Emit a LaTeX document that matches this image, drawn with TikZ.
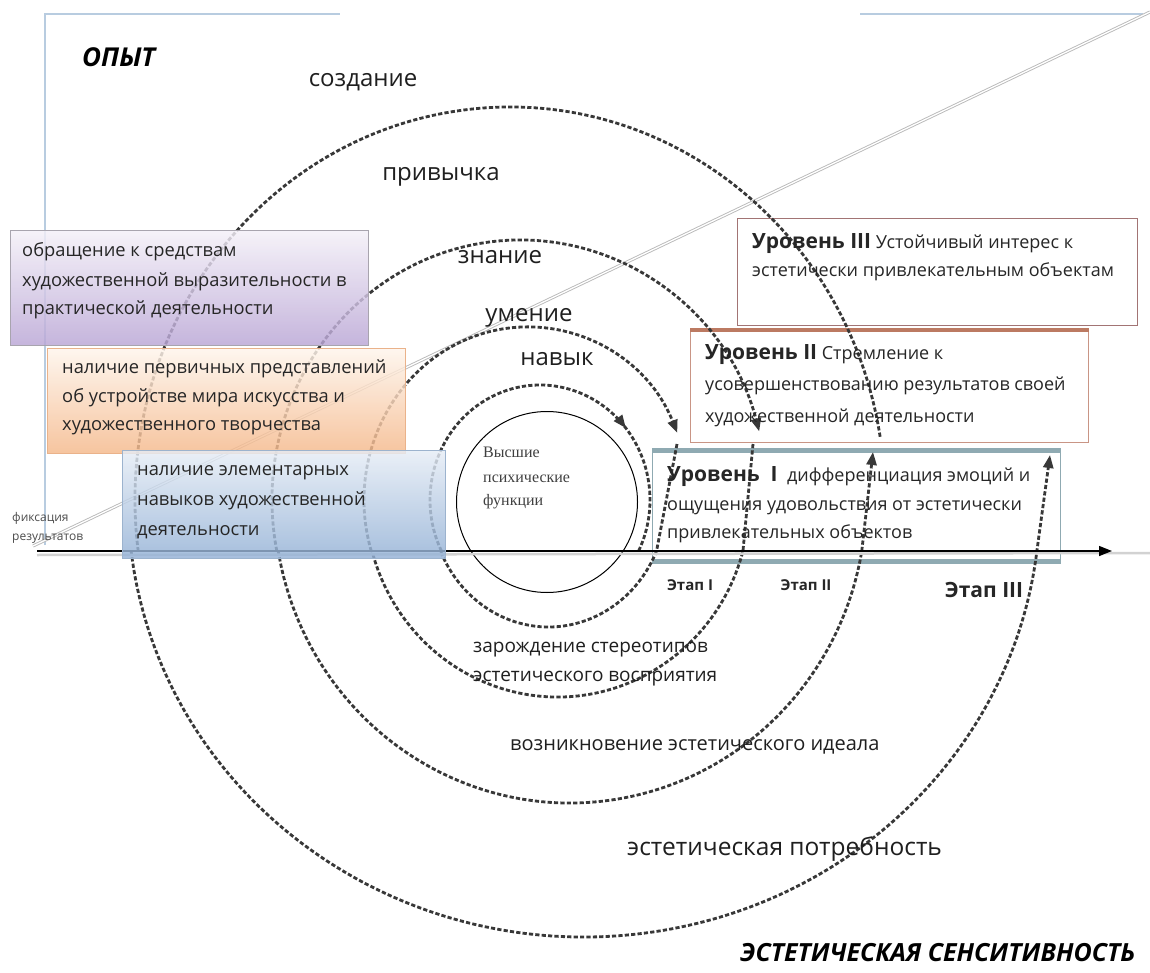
\documentclass[tikz,border=0pt]{standalone}
\usepackage{fontspec}
\setmainfont{Open Sans}
\newfontfamily\serifcyr{Liberation Serif}
\usetikzlibrary{arrows.meta,decorations.markings}
\definecolor{frameC}{HTML}{B8CCE0}
\definecolor{purTop}{HTML}{F4F0F8}
\definecolor{purBot}{HTML}{B9A5D5}
\definecolor{purBd}{HTML}{A8A4AE}
\definecolor{orTop}{HTML}{FEF5EC}
\definecolor{orBot}{HTML}{F5B88A}
\definecolor{orBd}{HTML}{EAB28A}
\definecolor{blTop}{HTML}{E6EDF6}
\definecolor{blBot}{HTML}{93B1D6}
\definecolor{blBd}{HTML}{9CB3CE}
\definecolor{lvThree}{HTML}{A27474}
\definecolor{lvTwo}{HTML}{BC7A62}
\definecolor{lvTwoSide}{HTML}{C99585}
\definecolor{lvOne}{HTML}{8FAAB2}
\definecolor{spiralC}{HTML}{383838}
\tikzset{
  frameline/.style={draw=frameC, line width=1.2pt},
  diagline/.style={draw=gray!55, line width=0.9pt, double=white, double distance=1.3pt},
  spiral/.style={draw=spiralC, line width=2.8pt, dash pattern=on 4.2pt off 2.2pt},
  spiraltip/.style={-{Triangle[length=13pt,width=10pt]}},
  leftbox/.style={rectangle, inner sep=0pt, anchor=north west, fill opacity=0.82, line width=1pt},
  lvlbox/.style={rectangle, inner sep=0pt, anchor=north west, fill=white},
  boxtxt/.style={font=\fontsize{18.3}{22}\selectfont, anchor=base west, inner sep=0pt, text=black!85},
  lvtxt/.style={font=\fontsize{18}{22}\selectfont, anchor=base west, inner sep=0pt, text=black!85},
  lvbold/.style={font=\fontsize{21}{25}\selectfont\bfseries},
  biglbl/.style={font=\fontsize{24}{28}\selectfont, anchor=base, inner sep=0pt, text=black!88},
  midlbl/.style={font=\fontsize{20}{24}\selectfont, anchor=base west, inner sep=0pt, text=black!88},
  etap/.style={font=\fontsize{15}{18}\selectfont\bfseries, anchor=base, inner sep=0pt, text=black!85},
  hpftxt/.style={font=\serifcyr\fontsize{16}{19}\selectfont, anchor=base west, inner sep=0pt, text=black!75},
  fixtxt/.style={font=\fontsize{12}{14}\selectfont, anchor=base west, inner sep=0pt, text=black!70},
}
\begin{document}
\begin{tikzpicture}[x=1pt,y=-1pt]
\useasboundingbox (0,0) rectangle (1150,973);
\fill[white] (0,0) rectangle (1150,973);

% frame lines
\coordinate (fA) at (45,545);
\coordinate (fB) at (45,14);
\coordinate (fC) at (340,14);
\coordinate (fD) at (860,14);
\coordinate (fE) at (1143,14);
\draw[frameline] (fA) -- (fB) -- (fC);
\draw[frameline] (fD) -- (fE);

% diagonal double line
\coordinate (dA) at (33,546);
\coordinate (dB) at (1150,12);
\draw[diagline] (dA) -- (dB);

% level boxes
\node[lvlbox, draw=lvThree, line width=1.4pt, minimum width=400pt, minimum height=107pt] (lv3) at (737,218) {};
\node[lvlbox, draw=lvTwoSide, line width=1pt, minimum width=398pt, minimum height=112pt] (lv2) at (690,330) {};
\draw[draw=lvTwo, line width=4pt] (lv2.north west) -- (lv2.north east);
\node[lvlbox, draw=lvOne, line width=1.2pt, minimum width=408pt, minimum height=114pt] (lv1) at (652,448) {};
\draw[draw=lvOne, line width=5pt] ([yshift=-2pt]lv1.north west) -- ([yshift=-2pt]lv1.north east);
\draw[draw=lvOne, line width=5pt] ([yshift=2pt]lv1.south west) -- ([yshift=2pt]lv1.south east);

% central circle
\node[circle, draw=black, line width=1pt, minimum size=181pt, inner sep=0pt] (hpf) at (547,502) {};

% spiral: upper arcs
\draw[spiral, postaction={decorate}, decoration={markings, mark=at position 0.717 with {\arrow{Triangle[length=13pt,width=10pt]}}}]
  ([shift={(153.7:110 and 115)}]540,500) arc[start angle=153.7, end angle=386.3, x radius=110, y radius=115];
\draw[spiral, spiraltip] ([shift={(162.8:163 and 173)}]527,500) arc[start angle=162.8, end angle=337.2, x radius=163, y radius=173];
\draw[spiral, spiraltip] ([shift={(168.7:248 and 260)}]520,500) arc[start angle=168.7, end angle=344.7, x radius=248, y radius=260];
\draw[spiral] ([shift={(172.5:375 and 393)}]510,500) arc[start angle=172.5, end angle=351.0, x radius=375, y radius=393];

% spiral: lower arcs
\coordinate (r1) at (677,444);
\coordinate (r2) at (753,444);
\coordinate (r3) at (873,452);
\coordinate (r4) at (1050,455);
\draw[spiral] (r1) -- ([shift={(23.7:118 and 127)}]548.5,500) arc[start angle=23.7, end angle=156.3, x radius=118, y radius=127];
\draw[spiral] (r2) -- ([shift={(15:192 and 197)}]557.5,500) arc[start angle=15, end angle=165, x radius=192, y radius=197];
\draw[spiral, spiraltip] ([shift={(170.3:296 and 303)}]570,500) arc[start angle=170.3, end angle=9.7, x radius=296, y radius=303] -- (r3);
\draw[spiral, spiraltip] ([shift={(173.3:456 and 437)}]584,500) arc[start angle=173.3, end angle=6.7, x radius=456, y radius=437] -- (r4);

% time axis
\coordinate (ax0) at (37,551);
\coordinate (ax1) at (1112,551);
\coordinate (ax2) at (1150,553);
\draw[draw=gray!35, line width=2.5pt] (37,555) -- (ax2);
\draw[draw=black, line width=1.4pt, -{Triangle[length=13pt,width=10pt]}] (ax0) -- (ax1);

% left boxes
\node[leftbox, draw=purBd, top color=purTop, bottom color=purBot, minimum width=358pt, minimum height=115pt] (bp) at (10,230) {};
\node[leftbox, draw=orBd, top color=orTop, bottom color=orBot, minimum width=358pt, minimum height=105pt] (bo) at (47,348) {};
\node[leftbox, draw=blBd, top color=blTop, bottom color=blBot, minimum width=323pt, minimum height=108pt] (bb) at (122,450) {};

% texts in left boxes
\node[boxtxt] (p1) at (22,257) {обращение к средствам};
\node[boxtxt] (p2) at (22,287) {художественной выразительности в};
\node[boxtxt] (p3) at (22,315) {практической деятельности};
\node[boxtxt] (o1) at (62,373) {наличие первичных представлений};
\node[boxtxt] (o2) at (62,402) {об устройстве мира искусства и};
\node[boxtxt] (o3) at (62,430) {художественного творчества};
\node[boxtxt] (b1) at (137,475) {наличие элементарных};
\node[boxtxt] (b2) at (137,505) {навыков художественной};
\node[boxtxt] (b3) at (137,535) {деятельности};

% level texts
\node[lvtxt] (l31) at (752,249) {{\fontsize{21}{25}\selectfont\bfseries Уровень III} Устойчивый интерес к};
\node[lvtxt] (l32) at (752,277) {эстетически привлекательным объектам};
\node[lvtxt] (l21) at (705,359) {{\fontsize{21}{25}\selectfont\bfseries Уровень II} Стремление к};
\node[lvtxt] (l22) at (705,390) {усовершенствованию результатов своей};
\node[lvtxt] (l23) at (705,422) {художественной деятельности};
\node[lvtxt] (l11) at (667,481) {{\fontsize{21}{25}\selectfont\bfseries Уровень~~I}\ \ дифференциация эмоций и};
\node[lvtxt] (l12) at (667,510) {ощущения удовольствия от эстетически};
\node[lvtxt] (l13) at (667,538) {привлекательных объектов};

% circle text
\node[hpftxt] (h1) at (483,457) {Высшие};
\node[hpftxt] (h2) at (483,482) {психические};
\node[hpftxt] (h3) at (483,505) {функции};

% big labels
\node[font=\fontsize{26}{30}\selectfont\bfseries\itshape, anchor=base west, inner sep=0pt] (opyt) at (82,67) {ОПЫТ};
\node[biglbl] (s1) at (363,87) {создание};
\node[biglbl] (s2) at (441,181) {привычка};
\node[biglbl] (s3) at (500,264) {знание};
\node[biglbl] (s4) at (529,322) {умение};
\node[biglbl] (s5) at (557,365) {навык};

% stage labels
\node[etap] (e1) at (690,590) {Этап I};
\node[etap] (e2) at (806,590) {Этап II};
\node[etap, font=\fontsize{21}{24}\selectfont\bfseries] (e3) at (984,597) {Этап III};

% fixation label
\node[fixtxt] (fx1) at (12,521) {фиксация};
\node[fixtxt] (fx2) at (12,540) {результатов};

% lower labels
\node[midlbl, font=\fontsize{19}{23}\selectfont] (z1) at (473,652) {зарождение стереотипов};
\node[midlbl, font=\fontsize{19}{23}\selectfont] (z2) at (473,681) {эстетического восприятия};
\node[midlbl] (v1) at (510,750) {возникновение эстетического идеала};
\node[midlbl, font=\fontsize{24.5}{28}\selectfont] (n1) at (627,855) {эстетическая потребность};
\node[font=\fontsize{25}{29}\selectfont\bfseries\itshape, anchor=base west, inner sep=0pt] (es) at (740,961) {ЭСТЕТИЧЕСКАЯ СЕНСИТИВНОСТЬ};
\end{tikzpicture}
\end{document}
